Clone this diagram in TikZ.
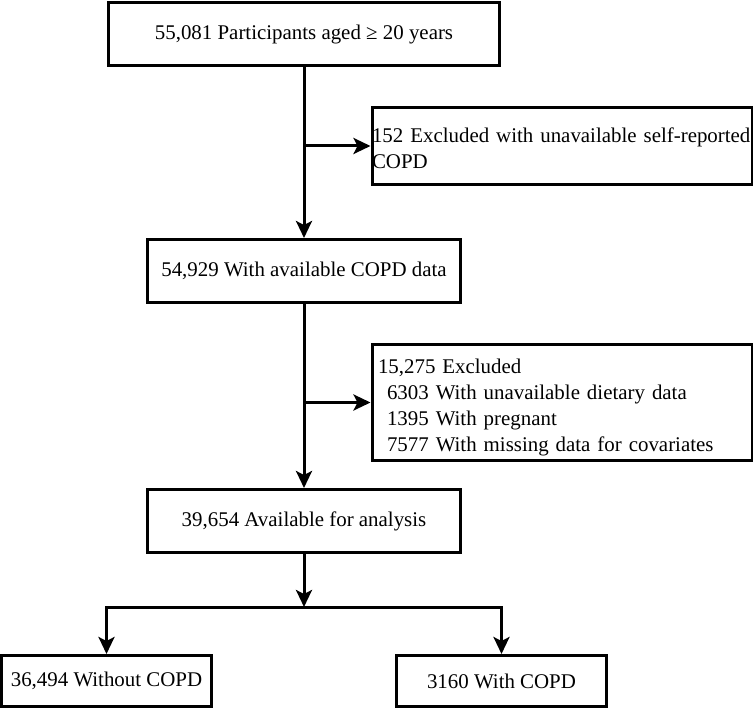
\documentclass[tikz,border=0pt]{standalone}
\usepackage{fontspec}
\setmainfont{Liberation Serif}
\usetikzlibrary{arrows.meta,positioning}
\hfuzz=50pt \hbadness=10000
\begin{document}
\begin{tikzpicture}[x=1pt,y=-1pt,
  box/.style={draw=black,line width=3pt,rectangle,inner sep=0pt,
    font=\fontsize{20.9}{26}\selectfont},
  sidebox/.style={box,align=left,anchor=west,inner xsep=0pt,text width=380pt},
  arr/.style={line width=3pt,-{Stealth[length=17pt,width=16pt,inset=4pt]}},
  ln/.style={line width=3pt}]
\useasboundingbox (0,0) rectangle (753,708);
\node[box,minimum width=391pt,minimum height=63pt] (b1) at (304,34.5) {55,081 Participants aged ≥ 20 years};
\node[sidebox,minimum height=77pt] (b2) at (370.5,146) {\rule{0pt}{18.5pt}\mbox{152 Excluded with unavailable self-reported}\\COPD};
\node[sidebox,minimum height=116pt] (b4) at (370.5,402.5) {\rule{0pt}{24pt}\hspace*{6pt}\mbox{15,275 Excluded}\\\hspace*{15pt}\mbox{6303 With unavailable dietary data}\\\hspace*{15pt}\mbox{1395 With pregnant}\\\hspace*{15pt}\mbox{7577 With missing data for covariates}};
\node[box,minimum width=313pt,minimum height=63pt] (b3) at (304,271) {54,929 With available COPD data};
\node[box,minimum width=313pt,minimum height=63pt] (b5) at (304,521) {39,654 Available for analysis};
\node[box,minimum width=210pt,minimum height=51pt] (b6) at (106.5,681) {36,494 Without COPD};
\node[box,minimum width=210pt,minimum height=51pt] (b7) at (501.5,681) {3160 With COPD};
\coordinate (j1) at (304,146);
\coordinate (j2) at (304,402.5);
\coordinate (split) at (304,607);
\draw[arr] (b1.south) -- (b3.north);
\draw[arr] (j1) -- (b2.west);
\draw[arr] (b3.south) -- (b5.north);
\draw[arr] (j2) -- (b4.west);
\draw[arr] (b5.south) -- (split);
\draw[arr] (split) -| (b6.north);
\draw[arr] (split) -| (b7.north);
\end{tikzpicture}
\end{document}
